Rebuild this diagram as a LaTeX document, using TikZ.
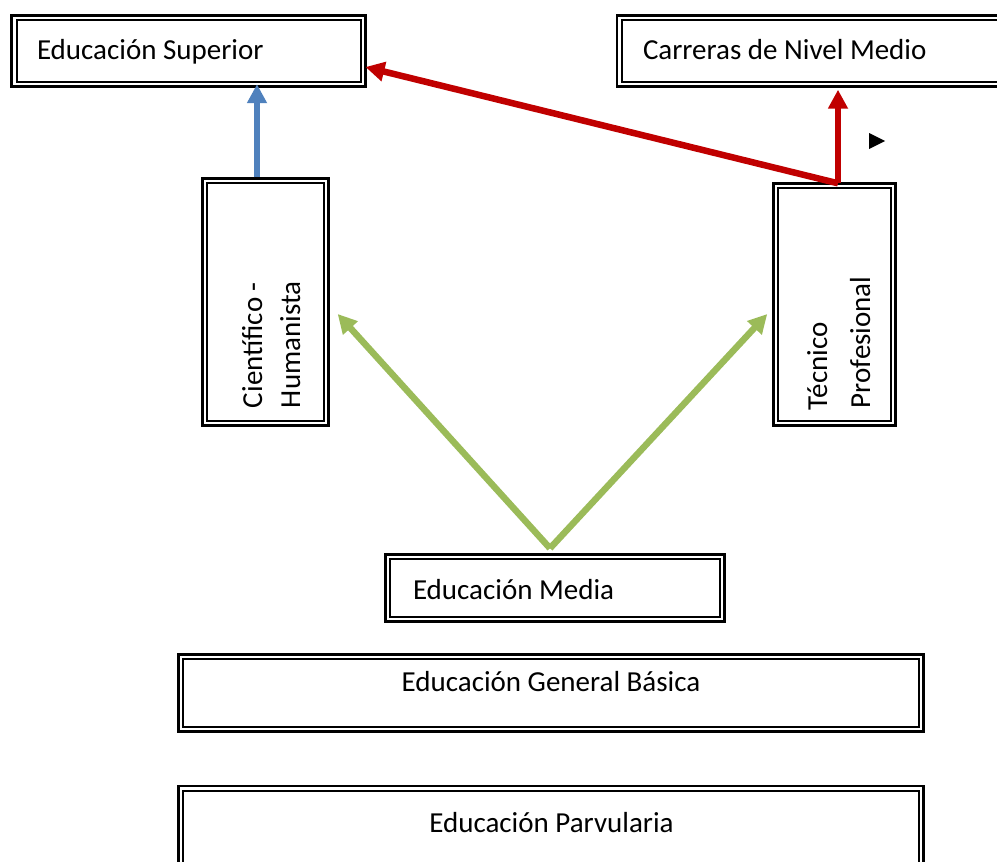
\documentclass[tikz,border=0pt]{standalone}
\usepackage{fontspec}
\setmainfont{Carlito}
\usetikzlibrary{arrows.meta}
\definecolor{ablue}{HTML}{4F81BD}
\definecolor{ared}{HTML}{C00000}
\definecolor{agreen}{HTML}{9BBB59}
\newcommand{\innerbox}[1]{\draw[innerline] ([shift={(5pt,-5pt)}]#1.north west) rectangle ([shift={(-5pt,5pt)}]#1.south east);}
\tikzset{
  boxnode/.style={draw, line width=2.8pt, inner sep=0pt, outer sep=0pt, rectangle},
  innerline/.style={draw, line width=2pt},
  lbl/.style={inner sep=0pt, outer sep=0pt, font=\fontsize{29}{42}\selectfont},
  conn/.style={line width=6.5pt, -{Triangle[width=19pt,length=19pt]}},
}
\begin{document}
\begin{tikzpicture}[x=1pt,y=-1pt]
\useasboundingbox (0,0) rectangle (997,862);
\clip (0,0) rectangle (997,862);
% boxes
\node[boxnode, minimum width=354pt, minimum height=71.4pt] (es) at (188.5,51) {};
\node[boxnode, minimum width=393pt, minimum height=71.4pt] (cnm) at (813.5,51) {};
\node[boxnode, minimum width=126.4pt, minimum height=247.4pt] (ch) at (265.5,302) {};
\node[boxnode, minimum width=122.4pt, minimum height=242.4pt] (tp) at (834.5,304.5) {};
\node[boxnode, minimum width=339.4pt, minimum height=67.4pt] (em) at (555,588) {};
\node[boxnode, minimum width=745.4pt, minimum height=77.4pt] (egb) at (551,693) {};
\node[boxnode, minimum width=745.4pt, minimum height=84pt] (ep) at (551,828) {};
\innerbox{es}\innerbox{cnm}\innerbox{ch}\innerbox{tp}\innerbox{em}\innerbox{egb}\innerbox{ep}
% labels
\node[lbl, anchor=base west] (es-t) at (37,59) {Educación Superior};
\node[lbl, anchor=base west] (cnm-t) at (643,59) {Carreras de Nivel Medio};
\node[lbl, anchor=base west] (em-t) at (413,599) {Educación Media};
\node[lbl, anchor=base] (egb-t) at (551,691) {Educación General Básica};
\node[lbl, anchor=base] (ep-t) at (551.5,832) {Educación Parvularia};
\node[lbl, anchor=base west, rotate=90] (ch-t1) at (262,408) {Científico -};
\node[lbl, anchor=base west, rotate=90] (ch-t2) at (300,408) {Humanista};
\node[lbl, anchor=base west, rotate=90] (tp-t1) at (827,410) {Técnico};
\node[lbl, anchor=base west, rotate=90] (tp-t2) at (870,408) {Profesional};
% connectors
\draw[conn, ablue, shorten <=1pt] ([xshift=-8.5pt]ch.north) -- ([xshift=-8.5pt,yshift=2.5pt]ch.north |- es.south);
\coordinate (rstart) at ([xshift=3.5pt]tp.north);
\draw[conn, ared] (rstart) -- ([yshift=-3pt]rstart |- cnm.south);
\draw[conn, ared] (rstart) -- ([yshift=-16pt]es.east);
\coordinate (gstart) at ([shift={(-5pt,6pt)}]em.north);
\draw[conn, agreen] (gstart) -- ([shift={(9pt,-12pt)}]ch.east);
\draw[conn, agreen] (gstart) -- ([shift={(-6pt,-9.5pt)}]tp.west);
% stray marker
\fill (869,133) -- (885,141) -- (869,149) -- cycle;
\end{tikzpicture}
\end{document}
